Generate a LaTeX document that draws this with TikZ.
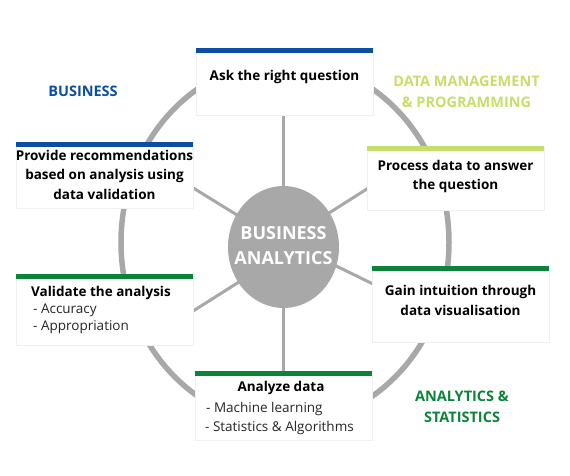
\documentclass[tikz,border=0pt]{standalone}
\usepackage{fontspec}
\setmainfont{Open Sans}
\usetikzlibrary{shapes.geometric}
\definecolor{bablue}{HTML}{0B4EA2}
\definecolor{balime}{HTML}{C8DE6A}
\definecolor{bagreen}{HTML}{0B843A}
\definecolor{baring}{HTML}{A8A8A8}
\definecolor{baedge}{HTML}{F0F0F0}
\definecolor{basub}{HTML}{262626}
\tikzset{
  boxbg/.style={draw=baedge, line width=0.5pt, fill=white},
  bartop/.style={fill=#1, draw=none},
  title/.style={font=\fontsize{13.5}{19.5}\selectfont\bfseries, align=center, inner sep=0pt},
  sub/.style={font=\fontsize{13.5}{19}\selectfont, anchor=west, inner sep=0pt, text=basub},
  grouplbl/.style={font=\fontsize{14.5}{21}\selectfont\bfseries, align=center, inner sep=0pt, text=#1},
  spoke/.style={draw=baring, line width=3pt},
}
\begin{document}
\begin{tikzpicture}[x=1pt,y=-1pt]
\useasboundingbox (0,0) rectangle (570,476);
\fill[white] (0,0) rectangle (570,476);
% ring
\draw[baring, line width=5.5pt] (285,242.5) ellipse [x radius=164, y radius=181.5];
% spoke ends
\coordinate (c) at (283.5,247);
\coordinate (sT) at (283.5,112);
\coordinate (sB) at (283.5,374);
\coordinate (sUL) at (190,186);
\coordinate (sUR) at (370,187);
\coordinate (sLL) at (190,313);
\coordinate (sLR) at (375,285);
\coordinate (iUL) at (250,223);
\coordinate (iUR) at (318,220);
\coordinate (iLL) at (250,275);
\coordinate (iLR) at (320,258);
\draw[spoke] (c) -- (sT);
\draw[spoke] (c) -- (sB);
\draw[spoke] (iUL) -- (sUL);
\draw[spoke] (iUR) -- (sUR);
\draw[spoke] (iLL) -- (sLL);
\draw[spoke] (iLR) -- (sLR);
% centre
\node[ellipse, fill=baring, draw=none, minimum width=111pt, minimum height=122pt, inner sep=0pt] (core) at (c) {};
\node[font=\fontsize{18}{25}\selectfont\bfseries, text=white, align=center, inner sep=0pt] (coretxt) at (283.5,245.5) {BUSINESS\\ANALYTICS};
% top box
\filldraw[boxbg] (196,48) rectangle (373,115);
\fill[bartop=bablue] (196,48) rectangle (373,53);
\node[title] (ask) at (284.5,76.5) {Ask the right question};
% left top box
\filldraw[boxbg] (16,142) rectangle (193,208);
\fill[bartop=bablue] (16,142) rectangle (193,147);
\node[title] (prov) at (104.5,174.5) {Provide recommendations\\based on analysis using\\data validation};
% right top box
\filldraw[boxbg] (367,146) rectangle (544,210);
\fill[bartop=balime] (367,146) rectangle (544,151);
\node[title] (proc) at (455.5,176.5) {Process data to answer\\the question};
% left bottom box
\filldraw[boxbg] (16,274) rectangle (193,345);
\fill[bartop=bagreen] (16,274) rectangle (193,279);
\node[title] (val) at (101,292.5) {Validate the analysis};
\node[sub] (acc) at (33,310.5) {- Accuracy};
\node[sub] (app) at (33,327) {- Appropriation};
% right bottom box
\filldraw[boxbg] (372,266) rectangle (549,342);
\fill[bartop=bagreen] (372,266) rectangle (549,271);
\node[title] (gain) at (460.5,300.5) {Gain intuition through\\data visualisation};
% bottom box
\filldraw[boxbg] (195,371) rectangle (372,440);
\fill[bartop=bagreen] (195,371) rectangle (372,376);
\node[title] (ana) at (281,387.5) {Analyze data};
\node[sub] (ml) at (206,408.5) {- Machine learning};
\node[sub] (sa) at (205,427.5) {- Statistics \& Algorithms};
% group labels
\node[grouplbl=bablue] (gbus) at (83,91) {BUSINESS};
\node[grouplbl=balime] (gdm) at (466.5,91.5) {DATA MANAGEMENT\\\& PROGRAMMING};
\node[grouplbl=bagreen] (gas) at (462,406.5) {ANALYTICS \&\\STATISTICS};
\end{tikzpicture}
\end{document}
